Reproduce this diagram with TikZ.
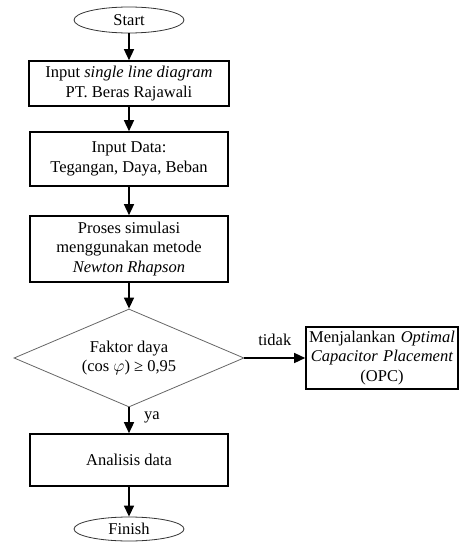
\documentclass[tikz,border=0pt]{standalone}
\usepackage{fontspec}
\setmainfont{Liberation Serif}
\usepackage{amsmath}
\usetikzlibrary{shapes.geometric, arrows.meta, positioning}
\tikzstyle{arrow} = [line width=1.4pt,-{Triangle[length=11pt,width=10pt]}]
\tikzstyle{startstop} = [ellipse, minimum width=110pt, minimum height=26pt, inner sep=0pt, draw=black!80, line width=0.8pt]
\tikzstyle{process} = [rectangle, minimum width=198pt, text centered, align=center, draw=black, line width=1.6pt]
\tikzstyle{decision} = [diamond, minimum width=230pt, minimum height=98pt, inner sep=0pt, aspect=2.35, align=center, draw=black!60, line width=0.8pt]

\begin{document}
\begin{tikzpicture}[x=1pt, y=1pt, node distance=60pt, font=\fontsize{16.5}{19.8}\selectfont]
\useasboundingbox (0,0) rectangle (459,-543);
\node (start) [startstop] at (129,-20) {Start};
\node (input) [process, node distance=63.5pt, below of=start, minimum height=45pt, minimum width=200pt] {Input \textit{single line diagram}\\PT. Beras Rajawali};
\node (data) [process, node distance=75.5pt, below of=input, minimum height=54pt] {Input Data:\\Tegangan, Daya, Beban};
\node (proses) [process, node distance=90pt, below of=data, minimum height=66pt] {Proses simulasi\\menggunakan metode\\\textit{Newton Rhapson}};
\node (faktor) [decision, node distance=109pt, below of=proses] {Faktor daya\\(cos $\varphi$) ≥ 0,95};
\node (opc) [process, node distance=253pt, right of=faktor, minimum width=152pt, text width=148pt, inner sep=2pt, minimum height=62pt] {Menjalankan \textit{Optimal Capacitor Placement}\\(OPC)};
\node (analisis) [process, node distance=102pt, below of=faktor, minimum height=52pt] {Analisis data};
\node (finish) [startstop, node distance=69pt, below of=analisis, minimum height=24pt] {Finish};

\draw [arrow] (start) -- (input);
\draw [arrow] (input) -- (data);
\draw [arrow] (data) -- (proses);
\draw [arrow] (proses) -- (faktor);
\draw [arrow] (faktor) -- node[above=8pt]{tidak} (opc);
\draw [arrow] (faktor) -- node[right=11pt, pos=0.4]{ya} (analisis);
\draw [arrow] (analisis) -- (finish);
\end{tikzpicture}
\end{document}
